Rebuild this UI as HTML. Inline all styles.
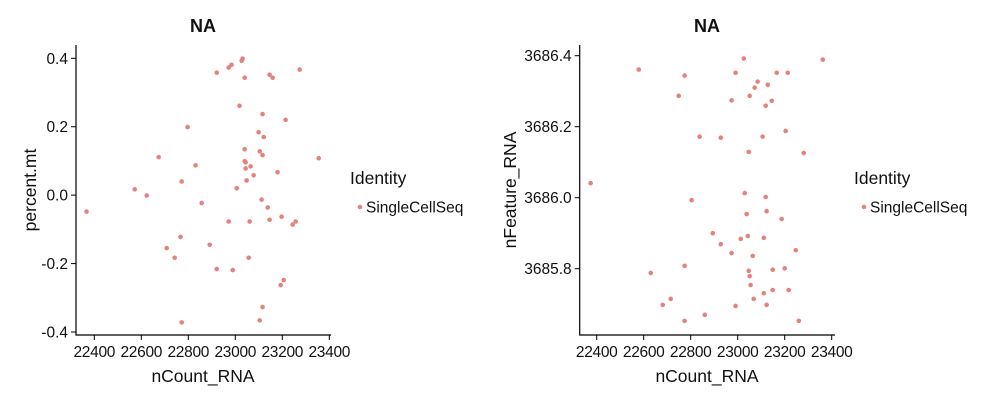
<!DOCTYPE html>
<html><head><meta charset="utf-8"><style>
body{margin:0;background:#fff;}
svg text{font-family:"Liberation Sans",Arial,sans-serif;fill:#111;}
</style></head><body>
<svg id="c" width="1000" height="400"></svg>
<script>
const xTicks=[22400,22600,22800,23000,23200,23400];
const y1Ticks=[-0.4,-0.2,0.0,0.2,0.4];
const y1TickLabels=["-0.4","-0.2","0.0","0.2","0.4"];
const y2Ticks=[3685.8,3686.0,3686.2,3686.4];
const y2TickLabels=["3685.8","3686.0","3686.2","3686.4"];
const x1=[22367,22572,22623,22674,22708,22742,22767,22772,22772,22797,22831,22857,22891,22921,22921,22972,22972,22984,22989,23006,23018,23027,23031,23040,23040,23040,23044,23044,23048,23057,23061,23065,23078,23099,23104,23104,23112,23116,23116,23116,23121,23138,23146,23146,23159,23180,23193,23197,23206,23214,23244,23257,23274,23355];
const y1=[-0.048,0.017,-0.001,0.111,-0.155,-0.183,-0.122,0.040,-0.372,0.199,0.087,-0.023,-0.145,0.358,-0.216,0.373,-0.077,0.381,-0.219,0.020,0.261,0.393,0.399,0.134,0.343,0.099,0.096,0.078,0.043,-0.183,-0.077,0.084,0.058,0.184,0.128,-0.366,-0.013,0.237,0.117,-0.327,0.170,-0.036,0.352,-0.072,0.343,0.067,-0.263,-0.063,-0.248,0.220,-0.086,-0.077,0.367,0.108];
const x2=[22374,22579,22630,22681,22715,22749,22774,22774,22774,22804,22838,22860,22894,22928,22928,22974,22974,22991,22991,23013,23026,23030,23038,23043,23047,23047,23051,23051,23055,23064,23068,23072,23085,23106,23111,23111,23119,23119,23123,23123,23128,23145,23149,23149,23166,23187,23200,23204,23213,23217,23247,23260,23281,23362];
const y2=[3686.041,3686.361,3685.788,3685.698,3685.715,3686.287,3686.344,3685.808,3685.653,3685.993,3686.172,3685.670,3685.900,3686.169,3685.869,3686.274,3685.844,3686.352,3685.695,3685.884,3686.392,3686.013,3685.954,3685.892,3686.129,3685.794,3686.287,3685.779,3685.754,3685.836,3685.715,3686.310,3686.327,3686.172,3685.731,3685.887,3686.259,3686.002,3685.962,3685.698,3686.318,3686.273,3685.797,3685.740,3686.352,3685.940,3685.801,3686.188,3686.352,3685.740,3685.852,3685.653,3686.126,3686.389];
const svg=document.getElementById('c');
const NS='http://www.w3.org/2000/svg';
function mk(t,a,p){const e=document.createElementNS(NS,t);for(const k in a)e.setAttribute(k,a[k]);(p||svg).appendChild(e);return e;}
function panel(o){
  const g=mk('g',{});
  
  
  const sx=v=>o.x0+(v-22400)/200*47;
  const sy=v=>o.yA+(v-o.vA)/(o.vB-o.vA)*(o.yB-o.yA);
  const t=mk('text',{x:o.cx,y:32,'text-anchor':'middle','font-size':18,'font-weight':'bold'},g);t.textContent='NA';
  
  const ax=mk('path',{d:`M${o.left},45V335H${o.right}`,stroke:'#000','stroke-width':1.2,fill:'none'},g);
  
  xTicks.forEach(v=>{const x=sx(v);mk('line',{x1:x,x2:x,y1:335,y2:340,stroke:'#000'},g);
    const l=mk('text',{x:x,y:357,'text-anchor':'middle','font-size':15.5,'letter-spacing':-0.3},g);l.textContent=v;
    });
  o.yt.forEach((v,i)=>{const y=sy(v);mk('line',{x1:o.left-5,x2:o.left,y1:y,y2:y,stroke:'#000'},g);
    const l=mk('text',{x:o.left-8,y:y+5.5,'text-anchor':'end','font-size':15.5},g);l.textContent=o.yl[i];
    });
  const xt=mk('text',{x:o.cx,y:382,'text-anchor':'middle','font-size':17.5},g);xt.textContent='nCount_RNA';
  
  const yt=mk('text',{x:0,y:0,'text-anchor':'middle','font-size':17.5,transform:`translate(${o.ytx},190) rotate(-90)`},g);yt.textContent=o.ytitle;
  
  o.xs.forEach((v,i)=>{const p=mk('circle',{cx:sx(v),cy:sy(o.ys[i]),r:2.3,fill:'#E3837B'},g);
    });
  const lt=mk('text',{x:o.lx,y:184,'font-size':17.5},g);lt.textContent='Identity';
  
  const ld=mk('circle',{cx:o.lx+10,cy:207,r:2.3,fill:'#E3837B'},g);
  
  const le=mk('text',{x:o.lx+16,y:212.5,'font-size':15.5},g);le.textContent='SingleCellSeq';
  
}
panel({name:'percent-mt-panel',x0:94.3,left:76,right:331,cx:203,yA:58.3,vA:0.4,yB:332,vB:-0.4,yt:y1Ticks,yl:y1TickLabels,ytitle:'percent.mt',ytx:36,xs:x1,ys:y1,lx:350});
panel({name:'nfeature-panel',x0:596.7,left:579.7,right:835,cx:707,yA:55.7,vA:3686.4,yB:268.7,vB:3685.8,yt:y2Ticks,yl:y2TickLabels,ytitle:'nFeature_RNA',ytx:516,xs:x2,ys:y2,lx:854});
</script>
</body></html>
